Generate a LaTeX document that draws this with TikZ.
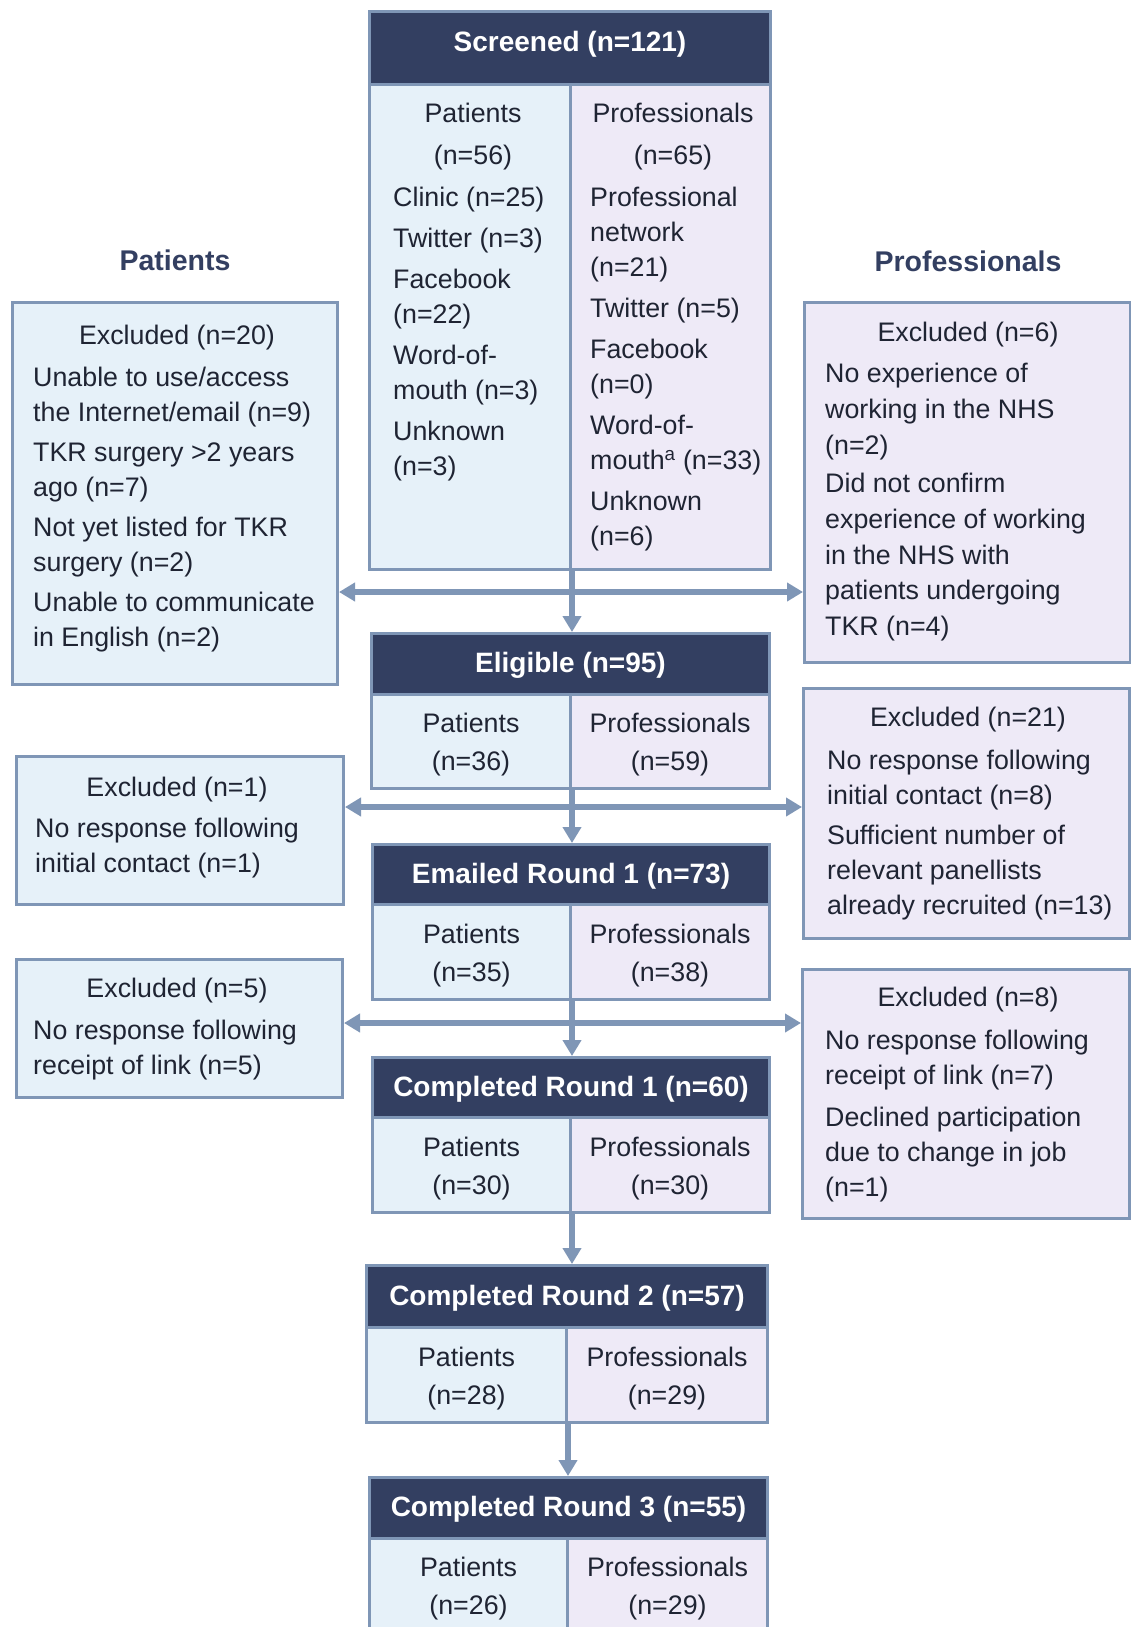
\documentclass[tikz,border=0pt]{standalone}
\usepackage{fontspec}
\setmainfont{Liberation Sans}
\usetikzlibrary{arrows.meta}

\definecolor{navy}{HTML}{333F61}
\definecolor{edge}{HTML}{7F96B6}
\definecolor{pfill}{HTML}{E6F1F9}
\definecolor{qfill}{HTML}{EEEAF7}
\definecolor{ink}{HTML}{1F2433}

\newcommand\regfont{\fontsize{26.8}{35}\selectfont}
\newcommand\widefont{\fontsize{26.8}{35.7}\selectfont}
\newcommand\cellfont{\fontsize{26.8}{38}\selectfont}
\newcommand\colfont{\fontsize{26.8}{42}\selectfont}
\newcommand\hdrfont{\fontsize{28}{34}\selectfont\bfseries}
\newcommand\celllift{\rule{0pt}{25.7pt}}

\tikzset{
  frame/.style={draw=edge, line width=3pt, inner sep=0pt, anchor=north west},
  hdr/.style={frame, fill=navy, text=white, font=\hdrfont, text height=20pt, text depth=3pt},
  pcell/.style={frame, fill=pfill, text=ink, font=\cellfont, align=center},
  qcell/.style={frame, fill=qfill, text=ink, font=\cellfont, align=center},
  pbox/.style={frame, fill=pfill},
  qbox/.style={frame, fill=qfill},
  heading/.style={anchor=base, text=navy, font=\fontsize{28.5}{34}\selectfont\bfseries, inner sep=0pt},
  xtitle/.style={anchor=base, text=ink, font=\regfont, inner sep=0pt},
  list/.style={anchor=north west, align=left, text=ink, font=\regfont, inner sep=0pt},
  colhead/.style={anchor=north, align=center, text=ink, font=\colfont, inner sep=0pt},
  down/.style={draw=edge, line width=5.5pt, -{Triangle[length=16pt,width=18pt]}},
  both/.style={draw=edge, line width=5.5pt, {Triangle[length=16pt,width=18pt]}-{Triangle[length=16pt,width=18pt]}},
}

\begin{document}
\begin{tikzpicture}[x=1pt,y=-1pt]
\useasboundingbox[fill=white] (0,0) rectangle (1130,1627);

% column headings
\node[heading] (hp) at (175,270) {Patients};
\node[heading] (hq) at (968,271) {Professionals};

% ---------- Screened ----------
\node[hdr, minimum width=401, minimum height=73, text depth=12pt] (scrH) at (368,10) {Screened (n=121)};
\node[pcell, minimum width=201, minimum height=485] (scrP) at (368,83) {};
\node[qcell, minimum width=200, minimum height=485] (scrQ) at (569,83) {};
\node[colhead] (scrPh) at (473,92.6) {\strut Patients\\(n=56)};
\node[colhead] (scrQh) at (673,92.6) {\strut Professionals\\(n=65)};
\node[list] (scrPl) at (393,182) {\strut Clinic (n=25)\\[6pt]Twitter (n=3)\\[6pt]Facebook\\(n=22)\\[6pt]Word-of-\\mouth (n=3)\\[6pt]Unknown\\(n=3)};
\node[list] (scrQl) at (590,182) {\strut Professional\\network\\(n=21)\\[6pt]Twitter (n=5)\\[6pt]Facebook\\(n=0)\\[6pt]Word-of-\\mouth\textsuperscript{a} (n=33)\\[6pt]Unknown\\(n=6)};

% ---------- Eligible ----------
\node[hdr, minimum width=398, minimum height=61] (eligH) at (370,632) {Eligible (n=95)};
\node[pcell, minimum width=199, minimum height=94] (eligP) at (370,693) {\celllift Patients\\(n=36)};
\node[qcell, minimum width=199, minimum height=94] (eligQ) at (569,693) {\celllift Professionals\\(n=59)};

% ---------- Emailed Round 1 ----------
\node[hdr, minimum width=397, minimum height=60] (emH) at (371,843) {Emailed Round 1 (n=73)};
\node[pcell, minimum width=198, minimum height=95] (emP) at (371,903) {\celllift Patients\\(n=35)};
\node[qcell, minimum width=199, minimum height=95] (emQ) at (569,903) {\celllift Professionals\\(n=38)};

% ---------- Completed Round 1 ----------
\node[hdr, minimum width=397, minimum height=60] (c1H) at (371,1056) {Completed Round 1 (n=60)};
\node[pcell, minimum width=198, minimum height=95] (c1P) at (371,1116) {\celllift Patients\\(n=30)};
\node[qcell, minimum width=199, minimum height=95] (c1Q) at (569,1116) {\celllift Professionals\\(n=30)};

% ---------- Completed Round 2 ----------
\node[hdr, minimum width=401, minimum height=62] (c2H) at (365,1264) {Completed Round 2 (n=57)};
\node[pcell, minimum width=200, minimum height=95] (c2P) at (365,1326) {\celllift Patients\\(n=28)};
\node[qcell, minimum width=201, minimum height=95] (c2Q) at (565,1326) {\celllift Professionals\\(n=29)};

% ---------- Completed Round 3 ----------
\node[hdr, minimum width=398, minimum height=61] (c3H) at (368,1476) {Completed Round 3 (n=55)};
\node[pcell, minimum width=198, minimum height=94] (c3P) at (368,1537) {\celllift Patients\\(n=26)};
\node[qcell, minimum width=200, minimum height=94] (c3Q) at (566,1537) {\celllift Professionals\\(n=29)};

% ---------- exclusion boxes, patients ----------
\node[pbox, minimum width=325, minimum height=382] (L1) at (11,301) {};
\node[xtitle] (L1t) at (177,344) {Excluded (n=20)};
\node[list] (L1b) at (33,362) {\strut Unable to use/access\\the Internet/email (n=9)\\[5pt]TKR surgery >2 years\\ago (n=7)\\[5pt]Not yet listed for TKR\\surgery (n=2)\\[5pt]Unable to communicate\\in English (n=2)};

\node[pbox, minimum width=327, minimum height=148] (L2) at (15,755) {};
\node[xtitle] (L2t) at (177,796) {Excluded (n=1)};
\node[list] (L2b) at (35,813) {\strut No response following\\initial contact (n=1)};

\node[pbox, minimum width=326, minimum height=138] (L3) at (15,958) {};
\node[xtitle] (L3t) at (177,997) {Excluded (n=5)};
\node[list] (L3b) at (33,1015) {\strut No response following\\receipt of link (n=5)};

% ---------- exclusion boxes, professionals ----------
\node[qbox, minimum width=326, minimum height=360] (R1) at (803,301) {};
\node[xtitle] (R1t) at (968,341) {Excluded (n=6)};
\node[list, font=\widefont] (R1b) at (825,357.5) {\strut No experience of\\working in the NHS\\(n=2)\\[3pt]Did not confirm\\experience of working\\in the NHS with\\patients undergoing\\TKR (n=4)};

\node[qbox, minimum width=326, minimum height=250] (R2) at (802,687) {};
\node[xtitle] (R2t) at (968,726) {Excluded (n=21)};
\node[list] (R2b) at (827,745) {\strut No response following\\initial contact (n=8)\\[5pt]Sufficient number of\\relevant panellists\\already recruited (n=13)};

\node[qbox, minimum width=327, minimum height=249] (R3) at (801,968) {};
\node[xtitle] (R3t) at (968,1006) {Excluded (n=8)};
\node[list] (R3b) at (825,1025) {\strut No response following\\receipt of link (n=7)\\[7pt]Declined participation\\due to change in job\\(n=1)};

% ---------- connectors ----------
\coordinate (j1) at (569,592);
\coordinate (j2) at (569,807);
\coordinate (j3) at (569,1023);

\draw[both] (L1.east |- j1) -- (R1.west |- j1);
\draw[down] (scrP.south east) -- (scrP.south east |- eligH.north);

\draw[both] (L2.east |- j2) -- (R2.west |- j2);
\draw[down] (eligP.south east) -- (eligP.south east |- emH.north);

\draw[both] (L3.east |- j3) -- (R3.west |- j3);
\draw[down] (emP.south east) -- (emP.south east |- c1H.north);

\draw[down] (c1P.south east) -- (c1P.south east |- c2H.north);
\draw[down] (c2P.south east) -- (c2P.south east |- c3H.north);
\end{tikzpicture}
\end{document}
